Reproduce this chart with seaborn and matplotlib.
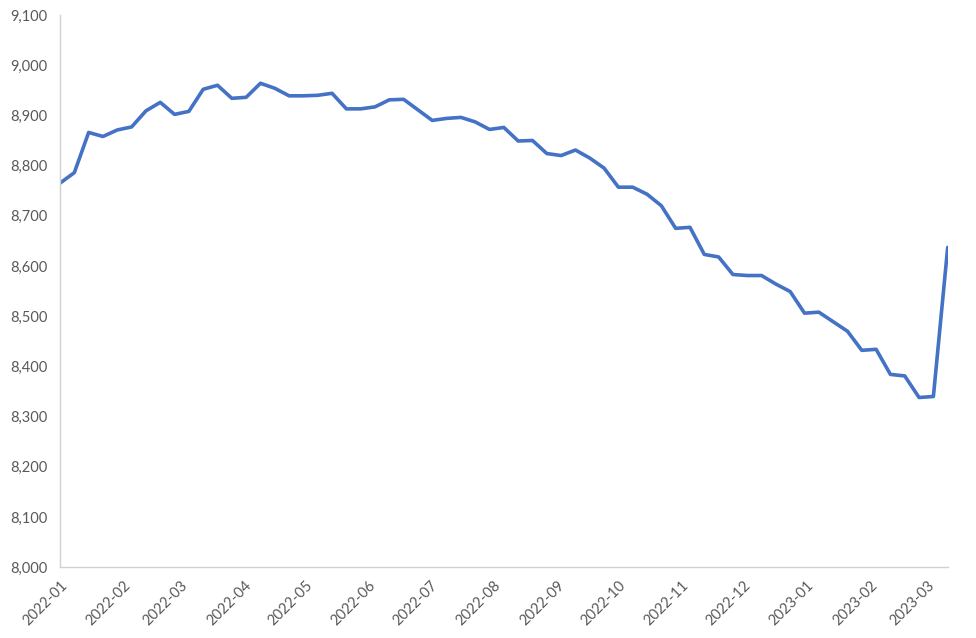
import pandas as pd
import seaborn as sns
import matplotlib.pyplot as plt
import matplotlib.dates as mdates
from matplotlib.ticker import FuncFormatter, MultipleLocator

# weekly values, first week 2022-01-01
start_date = "2022-01-01"
values = [
    8765, 8786, 8866, 8858, 8871, 8877, 8909, 8926, 8902, 8908,
    8952, 8960, 8934, 8936, 8964, 8954, 8939, 8939, 8940, 8944,
    8913, 8913, 8917, 8931, 8932, 8911, 8890, 8894, 8896, 8887,
    8872, 8876, 8849, 8850, 8824, 8820, 8831, 8815, 8795, 8757,
    8757, 8743, 8720, 8675, 8677, 8623, 8618, 8583, 8581, 8581,
    8564, 8549, 8506, 8508, 8489, 8470, 8432, 8434, 8384, 8381,
    8338, 8340, 8637,
]
y_min, y_max = 8000, 9100

df = pd.DataFrame({
    "date": pd.date_range(start_date, periods=len(values), freq="7D"),
    "value": values,
})

sns.set_style("white")
plt.rcParams["font.family"] = ["Lato", "DejaVu Sans"]

fig = plt.figure(figsize=(9.76, 6.38), dpi=100)
ax = fig.add_axes([0.0615, 0.111, 0.9095, 0.8655])

sns.lineplot(data=df, x="date", y="value", color="#4472C4", linewidth=2.6, ax=ax)

ax.set_xlim(df["date"].iloc[0], df["date"].iloc[-1])
ax.set_ylim(y_min, y_max)
ax.yaxis.set_major_locator(MultipleLocator(100))
ax.yaxis.set_major_formatter(FuncFormatter(lambda v, p: f"{int(v):,}"))
ax.xaxis.set_major_locator(mdates.MonthLocator())
ax.xaxis.set_major_formatter(mdates.DateFormatter("%Y-%m"))

for lab in ax.get_xticklabels():
    lab.set_rotation(45)
    lab.set_ha("right")
    lab.set_rotation_mode("anchor")

ax.set_xlabel("")
ax.set_ylabel("")
for side in ["top", "right"]:
    ax.spines[side].set_visible(False)
for side in ["left", "bottom"]:
    ax.spines[side].set_color("#D0D0D0")
    ax.spines[side].set_linewidth(1)

ax.tick_params(axis="both", which="major", length=5, width=1, color="#D0D0D0",
               labelsize=10.5, labelcolor="#595959", direction="out")
ax.tick_params(axis="x", pad=3)
ax.tick_params(axis="y", pad=4)

plt.savefig("out.png", dpi=100)
